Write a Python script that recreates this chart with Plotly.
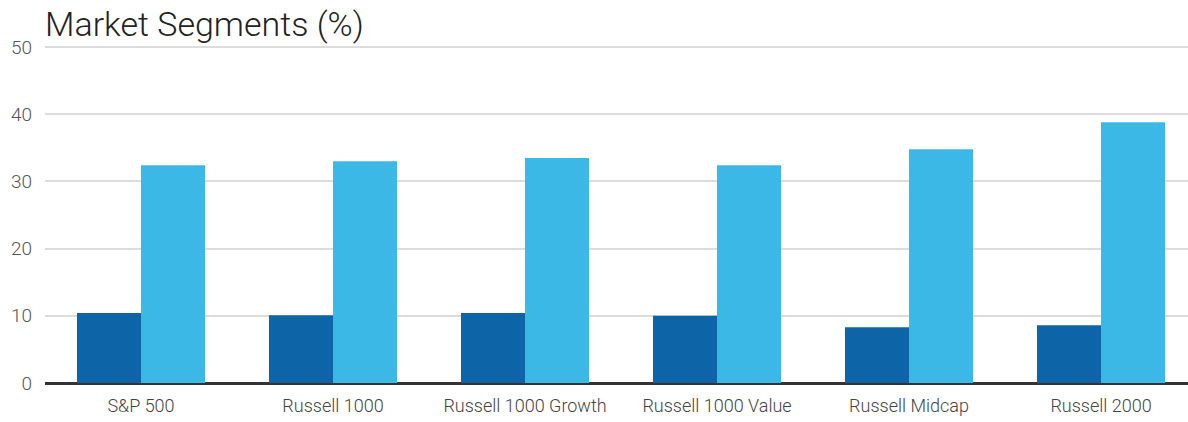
import plotly.graph_objects as go

categories = ["S&P 500", "Russell 1000", "Russell 1000 Growth", "Russell 1000 Value", "Russell Midcap", "Russell 2000"]
series_a = [10.4, 10.1, 10.4, 10.0, 8.3, 8.6]
series_b = [32.4, 33.0, 33.5, 32.4, 34.8, 38.8]
y_ticks = [0, 10, 20, 30, 40, 50]

fig = go.Figure()
fig.add_trace(go.Bar(x=categories, y=series_a, marker=dict(color="#0d64a6", line=dict(width=0)), showlegend=False))
fig.add_trace(go.Bar(x=categories, y=series_b, marker=dict(color="#3bb8e5", line=dict(width=0)), showlegend=False))

fig.update_layout(
    width=1188, height=422,
    margin=dict(l=45, r=0, t=46, b=39),
    paper_bgcolor="white", plot_bgcolor="white",
    barmode="group", bargap=0.333, bargroupgap=0,
    font=dict(family="Roboto, Arial, sans-serif", color="#444"),
    title=dict(text="Market Segments (%)", x=45/1188, xref="container", xanchor="left",
               y=1 - 24/422, yref="container", yanchor="middle",
               font=dict(size=34, color="#222", family="Roboto, Arial, sans-serif", weight=300)),
    xaxis=dict(range=[-0.5, 5.453], showgrid=False, showline=False, ticks="",
               tickfont=dict(size=18, color="#444", weight=300), ticklabelstandoff=10, fixedrange=True),
    yaxis=dict(range=[0, 50.15], tickvals=y_ticks, showgrid=True, gridcolor="#dcdcdc", gridwidth=1.5,
               zeroline=True, zerolinecolor="#333", zerolinewidth=2.5,
               ticks="", tickfont=dict(size=19, color="#555", weight=300), ticklabelstandoff=12, showline=False),
)

fig.write_html("out.html")
